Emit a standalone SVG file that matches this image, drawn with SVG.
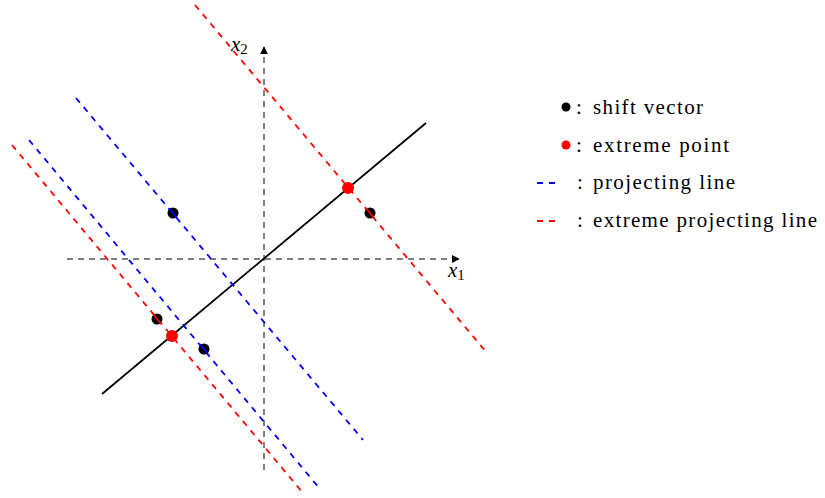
<svg xmlns="http://www.w3.org/2000/svg" width="825" height="498" viewBox="0 0 825 498">
<style>
.ax{stroke:#000;stroke-width:1;stroke-dasharray:6 5;fill:none}
.blue{stroke:#0000ff;stroke-width:1.8;stroke-dasharray:6 6;fill:none}
.red{stroke:#ff0000;stroke-width:1.8;stroke-dasharray:6 6;fill:none}
.solid{stroke:#000;stroke-width:1.8;fill:none}
.t{font-family:"Liberation Serif","DejaVu Serif",serif;font-size:21px;fill:#000}
.m{font-family:"Liberation Serif","DejaVu Serif",serif;font-style:italic;font-size:21px;fill:#000}
.s{font-family:"Liberation Serif","DejaVu Serif",serif;font-size:15px;font-style:normal;fill:#000}
</style>
<defs>
<marker id="arr" viewBox="0 0 10 10" refX="9" refY="5" markerWidth="8" markerHeight="8" markerUnits="userSpaceOnUse" orient="auto">
<path d="M0,0 L10,5 L0,10 z" fill="#000"/>
</marker>
</defs>
<rect width="825" height="498" fill="#fff"/>
<g id="connectors">
<line id="x-axis" class="ax" x1="67" y1="259" x2="459" y2="259" marker-end="url(#arr)"/>
<line id="y-axis" class="ax" x1="264" y1="470" x2="264" y2="47" marker-end="url(#arr)"/>
<line id="solid-line" class="solid" x1="102" y1="394" x2="426" y2="123"/>
<line id="red1" class="red" x1="195" y1="5" x2="487" y2="353"/>
<line id="blue1" class="blue" x1="76" y1="98" x2="363" y2="440"/>
<line id="blue2" class="blue" x1="29" y1="140" x2="320" y2="489"/>
<line id="red2" class="red" x1="12" y1="145" x2="303" y2="493"/>
</g>
<g id="points">
<circle cx="173" cy="213" r="5.5" fill="#000"/>
<circle cx="370" cy="213" r="5.5" fill="#000"/>
<circle cx="157" cy="319" r="5.5" fill="#000"/>
<circle cx="204" cy="349" r="5.5" fill="#000"/>
<line x1="169" y1="208" x2="177" y2="218" stroke="#0000ff" stroke-width="1.8"/>
<line x1="366" y1="208" x2="374" y2="218" stroke="#ff0000" stroke-width="1.8"/>
<line x1="153" y1="314" x2="161" y2="324" stroke="#ff0000" stroke-width="1.8"/>
<line x1="200" y1="344" x2="208" y2="354" stroke="#0000ff" stroke-width="1.8"/>
<circle cx="348" cy="188" r="6" fill="#ff0000"/>
<circle cx="172" cy="336" r="6" fill="#ff0000"/>
</g>
<g id="axis-labels">
<text class="m" x="231" y="51">x<tspan class="s" dy="3">2</tspan></text>
<text class="m" x="448" y="277">x<tspan class="s" dy="3">1</tspan></text>
</g>
<g id="legend">
<circle cx="566" cy="107" r="4.5" fill="#000"/>
<text class="t" x="576" y="114">:</text>
<text class="t" x="593" y="114" textLength="110">shift vector</text>
<circle cx="566" cy="145" r="4.5" fill="#ff0000"/>
<text class="t" x="576" y="152">:</text>
<text class="t" x="593" y="152" textLength="136">extreme point</text>
<line class="blue" x1="537" y1="183" x2="561" y2="183" stroke-dasharray="7 10"/>
<text class="t" x="577" y="189">:</text>
<text class="t" x="593" y="189" textLength="142">projecting line</text>
<line class="red" x1="537" y1="221" x2="561" y2="221" stroke-dasharray="7 10"/>
<text class="t" x="577" y="227">:</text>
<text class="t" x="593" y="227" textLength="224">extreme projecting line</text>
</g>
</svg>
